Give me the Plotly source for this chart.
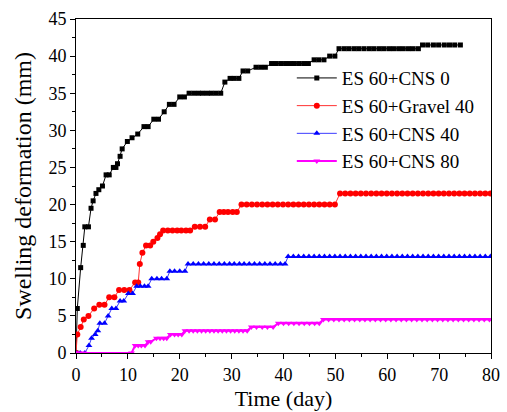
import plotly.graph_objects as go

# ---- data ----
t_cns0 = [0, 0.25, 0.9, 1.4, 1.7, 2.4, 2.9, 3.3, 3.85, 4.4, 5.1, 5.8, 6.4, 7.2, 7.7, 8.0, 8.5, 8.9,
          9.9, 10.8, 11.9, 13.1, 13.9, 15.0, 15.9, 17.0, 18.0, 18.9, 20.0, 20.9,
          21.8, 22.7, 23.6, 24.4, 25.3, 26.1, 27.0, 27.9, 28.7, 29.7, 30.5, 31.4, 32.2, 33.1,
          34.7, 35.6, 36.5, 37.7, 38.6, 39.5, 40.4, 41.3, 42.1, 43.0, 43.9, 44.8, 45.9, 46.8, 47.8,
          48.9, 49.9, 50.7, 51.7, 52.6, 53.6, 54.5, 55.5, 56.5, 57.4, 58.4, 59.3, 60.3, 61.2, 62.2,
          63.1, 64.1, 65.0, 66.0, 66.8, 67.8, 68.9, 69.9, 71.0, 72.0, 73.0, 74.1]
v_cns0 = [0, 6, 11.5, 14.5, 17, 17, 19.5, 20.5, 21.5, 22, 22.5, 24, 24, 25, 25, 25.5, 26.5, 27.5,
          28.5, 29, 29.5, 30.5, 30.5, 31.5, 31.5, 32.5, 33.5, 33.5, 34.5, 34.5,
          35, 35, 35, 35, 35, 35, 35, 35, 36.5, 37, 37, 37, 38, 38,
          38.5, 38.5, 38.5, 39, 39, 39, 39, 39, 39, 39, 39, 39, 39.5, 39.5, 39.5,
          40, 40, 41, 41, 41, 41, 41, 41, 41, 41, 41, 41, 41, 41, 41,
          41, 41, 41, 41, 41.5, 41.5, 41.5, 41.5, 41.5, 41.5, 41.5, 41.5]

t_grav40 = [0, 0.25, 0.9, 1.5, 2.4, 3.5, 4.5, 5.5, 6.4, 7.4, 8.3, 9.3, 10.3, 11.4, 12.0, 12.3, 12.8,
            13.5, 14.3, 14.9, 15.7, 16.2, 16.8, 17.7, 18.6, 19.5, 20.3, 21.2, 22.0, 22.9, 23.9, 24.9,
            25.8, 26.8, 27.7, 28.5, 29.3, 30.2, 31.0,
            31.9, 32.9, 33.9, 34.9, 35.9, 36.9, 37.9, 38.9, 39.9, 40.9, 41.9, 42.9, 43.9, 44.9, 45.9,
            46.9, 47.9, 48.9, 49.9,
            50.9, 51.9, 52.9, 53.9, 54.9, 55.9, 56.9, 57.9, 58.9, 59.9, 60.9, 61.9, 62.9, 63.9, 64.9,
            65.9, 66.9, 67.9, 68.9, 69.9, 70.9, 71.9, 72.9, 73.9, 74.9, 75.9, 76.9, 77.9, 78.9, 79.9]
v_grav40 = [0, 2.5, 3.5, 4.5, 5, 6, 6.5, 6.5, 7.5, 7.5, 8.5, 8.5, 8.5, 9.5, 9.5, 12, 13.5,
            14.5, 14.5, 15, 15.5, 16, 16.5, 16.5, 16.5, 16.5, 16.5, 16.5, 16.5, 17, 17, 17,
            18, 18, 19, 19, 19, 19, 19,
            20, 20, 20, 20, 20, 20, 20, 20, 20, 20, 20, 20, 20, 20, 20,
            20, 20, 20, 20,
            21.5, 21.5, 21.5, 21.5, 21.5, 21.5, 21.5, 21.5, 21.5, 21.5, 21.5, 21.5, 21.5, 21.5, 21.5,
            21.5, 21.5, 21.5, 21.5, 21.5, 21.5, 21.5, 21.5, 21.5, 21.5, 21.5, 21.5, 21.5, 21.5, 21.5]

t_cns40 = [0, 0.8, 1.7, 2.5, 3.0, 3.7, 4.2, 4.6, 5.5, 6.2, 6.9, 7.7, 8.5, 9.2, 10.1, 10.9,
           11.7, 12.4, 13.2, 13.9, 14.6, 15.6, 16.5, 17.5, 18.1, 19.0, 20.0, 21.0,
           21.6, 22.6, 23.6, 24.6, 25.6, 26.6, 27.6, 28.6, 29.6, 30.5, 31.5, 32.4, 33.4, 34.4,
           35.4, 36.4, 37.4, 38.4, 39.4, 40.3,
           40.9, 41.9, 42.9, 43.9, 44.9, 45.9, 46.9, 47.9, 48.9, 49.9, 50.9, 51.9, 52.9, 53.9,
           54.9, 55.9, 56.9, 57.9, 58.9, 59.9, 60.9, 61.9, 62.9, 63.9, 64.9, 65.9, 66.9, 67.9,
           68.9, 69.9, 70.9, 71.9, 72.9, 73.9, 74.9, 75.9, 76.9, 77.9, 78.9, 79.9]
v_cns40 = [0, 0, 0, 1, 2, 2.5, 3, 4, 4, 5, 6, 6, 7, 7, 8, 8,
           9, 9, 9, 9, 10, 10, 10, 10, 11, 11, 11, 11,
           12, 12, 12, 12, 12, 12, 12, 12, 12, 12, 12, 12, 12, 12,
           12, 12, 12, 12, 12, 12,
           13, 13, 13, 13, 13, 13, 13, 13, 13, 13, 13, 13, 13, 13,
           13, 13, 13, 13, 13, 13, 13, 13, 13, 13, 13, 13, 13, 13,
           13, 13, 13, 13, 13, 13, 13, 13, 13, 13, 13, 13]

t_cns80 = [0, 0.5, 1.5, 10.7, 11.4, 12.0, 12.6, 13.3, 13.9, 14.4, 15.5, 16.2, 16.9, 17.5,
           18.2, 19.0, 19.7, 20.4, 21.0, 21.8, 22.6, 23.4, 24.2, 25.0, 25.8, 26.6, 27.4, 28.2,
           29.0, 29.8, 30.6, 31.4, 32.2, 33.0, 33.8, 34.8, 35.9, 36.9, 38.0,
           39.0, 40.0, 41.0, 42.0, 43.0, 44.0, 45.0, 46.0, 46.9,
           47.7, 48.7, 49.7, 50.7, 51.7, 52.7, 53.7, 54.7, 55.7, 56.7, 57.7, 58.7, 59.7, 60.7,
           61.7, 62.7, 63.7, 64.7, 65.7, 66.7, 67.7, 68.7, 69.7, 70.7, 71.7, 72.7, 73.7, 74.7,
           75.7, 76.7, 77.7, 78.7, 79.7]
v_cns80 = [0, 0, 0, 0, 1, 1, 1, 1, 1.5, 1.5, 2, 2, 2, 2,
           2.5, 2.5, 2.5, 2.5, 3, 3, 3, 3, 3, 3, 3, 3, 3, 3,
           3, 3, 3, 3, 3, 3, 3.5, 3.5, 3.5, 3.5, 3.5,
           4, 4, 4, 4, 4, 4, 4, 4, 4,
           4.5, 4.5, 4.5, 4.5, 4.5, 4.5, 4.5, 4.5, 4.5, 4.5, 4.5, 4.5, 4.5, 4.5,
           4.5, 4.5, 4.5, 4.5, 4.5, 4.5, 4.5, 4.5, 4.5, 4.5, 4.5, 4.5, 4.5, 4.5,
           4.5, 4.5, 4.5, 4.5, 4.5]

names = ["ES 60+CNS 0", "ES 60+Gravel 40", "ES 60+CNS 40", "ES 60+CNS 80"]
x_ticks = [0, 10, 20, 30, 40, 50, 60, 70, 80]
y_ticks = [0, 5, 10, 15, 20, 25, 30, 35, 40, 45]

FONT = "Liberation Serif"

fig = go.Figure()
fig.add_trace(go.Scatter(x=t_cns0, y=v_cns0, name=names[0], mode="lines+markers",
                         line=dict(color="#000000", width=1),
                         marker=dict(symbol="square", size=5, color="#000000")))
fig.add_trace(go.Scatter(x=t_grav40, y=v_grav40, name=names[1], mode="lines+markers",
                         line=dict(color="#ff3030", width=1),
                         marker=dict(symbol="circle", size=6, color="#ff0000")))
fig.add_trace(go.Scatter(x=t_cns40, y=v_cns40, name=names[2], mode="lines+markers",
                         line=dict(color="#3b3bff", width=1),
                         marker=dict(symbol="triangle-up", size=6, color="#0000ff")))
fig.add_trace(go.Scatter(x=t_cns80, y=v_cns80, name=names[3], mode="lines+markers",
                         line=dict(color="#ff00ff", width=2),
                         marker=dict(symbol="triangle-down", size=6, color="#ff00ff")))

axis_common = dict(showline=True, linecolor="black", linewidth=1, mirror=True,
                   ticks="outside", ticklen=5, tickwidth=1, tickcolor="black",
                   showgrid=False, zeroline=False, automargin=False,
                   tickfont=dict(family=FONT, size=18, color="black"))

fig.update_xaxes(range=[0, 80], tickvals=x_ticks, ticktext=[str(v) for v in x_ticks],
                 minor=dict(dtick=5, ticks="outside", ticklen=3, tickcolor="black", showgrid=False),
                 title=dict(text="Time (day)", font=dict(family=FONT, size=22, color="black"), standoff=7),
                 **axis_common)
fig.update_yaxes(range=[0, 45], tickvals=y_ticks, ticktext=[str(v) for v in y_ticks],
                 minor=dict(dtick=2.5, ticks="outside", ticklen=3, tickcolor="black", showgrid=False),
                 title=dict(text="Swelling deformation (mm)", font=dict(family=FONT, size=24, color="black"), standoff=10),
                 **axis_common)

fig.update_layout(
    width=507, height=412,
    margin=dict(l=76, r=16, t=19, b=59, autoexpand=False),
    paper_bgcolor="white", plot_bgcolor="white",
    font=dict(family=FONT, color="black"),
    legend=dict(x=0.52, y=0.88, xanchor="left", yanchor="top",
                font=dict(family=FONT, size=19, color="black"),
                bgcolor="rgba(0,0,0,0)", tracegroupgap=0, itemwidth=40),
    showlegend=True,
)

fig.write_html("out.html", config={"displayModeBar": False},
               post_script="document.body.style.margin='0';document.body.style.overflow='hidden';")
